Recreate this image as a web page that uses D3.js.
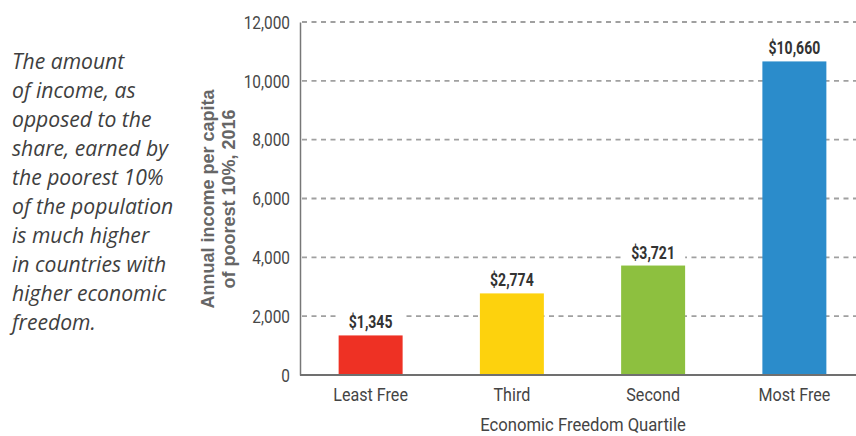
<!DOCTYPE html>
<html><head><meta charset="utf-8">
<script src="https://cdn.jsdelivr.net/npm/d3@7"></script>
<style>
html,body{margin:0;padding:0;background:#fff;}
svg{display:block;}
</style></head>
<body><svg id="c" width="856" height="436"></svg>
<script>
const categories = ["Least Free", "Third", "Second", "Most Free"];
const values = [1345, 2774, 3721, 10660];
const colors = ["#ee3124", "#fdd20d", "#8dc03f", "#2b8ccb"];
const yTicks = [0, 2000, 4000, 6000, 8000, 10000, 12000];
const noteLines = ["The amount", "of income, as", "opposed to the", "share, earned by", "the poorest 10%", "of the population", "is much higher", "in countries with", "higher economic", "freedom."];
const yTitle = ["Annual income per capita", "of poorest 10%, 2016"];
const xTitle = "Economic Freedom Quartile";

(function () {
const svg = d3.select("#c");
const narrow = "Roboto, 'Liberation Sans', sans-serif";
const pL = 300, pR = 865, pT = 22, pB = 375;

function condense(sel, f) {
  sel.each(function () {
    const w = this.getComputedTextLength();
    d3.select(this).attr("textLength", w * f).attr("lengthAdjust", "spacingAndGlyphs");
  });
}

const x = d3.scaleBand().domain(categories).range([pL, pR]).paddingInner(0.547).paddingOuter(0.2735);
const y = d3.scaleLinear().domain([0, 12000]).range([pB, pT]);

// note text
const note = svg.append("text").attr("font-family", "'Open Sans', Lato, sans-serif")
  .attr("font-style", "italic").attr("font-size", 22).attr("fill", "#3f3f3f");
noteLines.forEach((t, i) => note.append("tspan").attr("x", 12).attr("y", 69 + i * 29).text(t).call(condense, 0.96));

// gridlines
svg.append("g").selectAll("line").data(yTicks.filter(d => d > 0)).join("line")
  .attr("x1", pL + 2).attr("x2", 856).attr("y1", d => y(d)).attr("y2", d => y(d))
  .attr("stroke", "#a0a0a0").attr("stroke-width", 1.8).attr("stroke-dasharray", "5,4.5");

// y axis
const yAxis = svg.append("g").attr("transform", `translate(${pL},0)`)
  .call(d3.axisLeft(y).tickValues(yTicks).tickSize(0).tickPadding(10).tickFormat(d3.format(",")));
yAxis.select(".domain").attr("stroke", "#777").attr("stroke-width", 1.5);
yAxis.selectAll("text").attr("font-family", narrow).attr("font-size", 17.5).attr("fill", "#484848")
  .attr("dy", "0.36em").call(condense, 0.88);

// bars
svg.append("g").selectAll("rect").data(values).join("rect")
  .attr("x", (d, i) => x(categories[i])).attr("width", x.bandwidth())
  .attr("y", d => y(d)).attr("height", d => pB - y(d))
  .attr("fill", (d, i) => colors[i]);

// baseline
svg.append("line").attr("x1", pL).attr("x2", 856).attr("y1", pB).attr("y2", pB)
  .attr("stroke", "#707070").attr("stroke-width", 2);

// value labels with white background
const lab = svg.append("g").selectAll("g").data(values).join("g")
  .attr("transform", (d, i) => `translate(${x(categories[i]) + x.bandwidth() / 2},${y(d) - 7})`);
lab.append("rect").attr("x", -32).attr("width", 64).attr("y", -17).attr("height", 20).attr("fill", "#fff");
lab.append("text").attr("text-anchor", "middle").attr("font-family", narrow)
  .attr("font-weight", "bold").attr("font-size", 17.5).attr("fill", "#333")
  .text(d => "$" + d3.format(",")(d)).call(condense, 0.8);

// x axis labels
const xAxis = svg.append("g").attr("transform", `translate(0,${pB})`)
  .call(d3.axisBottom(x).tickSize(0));
xAxis.select(".domain").remove();
xAxis.selectAll("text").attr("y", 26).attr("dy", 0).attr("font-family", narrow)
  .attr("font-size", 18.5).attr("fill", "#444").call(condense, 0.87);

// x title
svg.append("text").attr("x", 583).attr("y", 431).attr("text-anchor", "middle")
  .attr("font-family", narrow).attr("font-size", 18.5).attr("fill", "#444").text(xTitle)
  .call(condense, 0.9);

// y title
yTitle.forEach((t, i) => {
  svg.append("text").attr("transform", `translate(${214 + i * 21},199) rotate(-90)`)
    .attr("text-anchor", "middle").attr("font-family", "'Liberation Sans', Arial, sans-serif")
    .attr("font-weight", "bold").attr("font-size", 18).attr("fill", "#666").text(t);
});
})();
</script></body></html>
